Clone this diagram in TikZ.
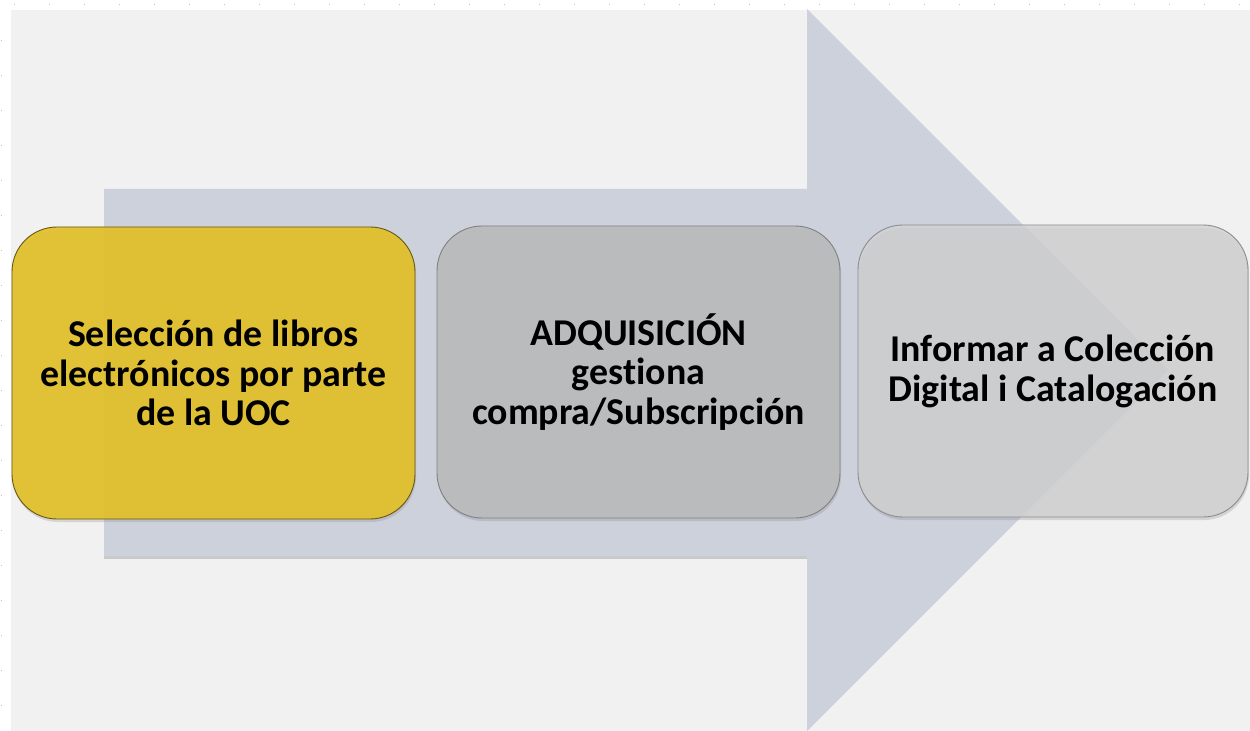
\documentclass[tikz,border=0pt]{standalone}
\usepackage{fontspec}
\setmainfont{Carlito}[Ligatures=NoCommon]
\usetikzlibrary{shadows}
\definecolor{bgc}{HTML}{F1F1F1}
\definecolor{arrowc}{HTML}{CDD1DB}
\definecolor{yellowc}{HTML}{E2C02A}
\definecolor{grayc}{HTML}{BBBBBD}
\definecolor{lightc}{HTML}{D2D2D3}
\begin{document}
\begin{tikzpicture}[x=1bp,y=-1bp,
  stepbox/.style={rounded corners=45bp, minimum width=403bp, minimum height=292bp,
    align=center, inner sep=0pt, line width=0.9bp,
    font=\fontsize{38}{40}\selectfont\bfseries,
    drop shadow={shadow xshift=1bp, shadow yshift=-3bp, opacity=.25}},
  dotline/.style={draw=black!25, line width=1bp, dash pattern=on 1bp off 34bp}
]
\useasboundingbox (0,0) rectangle (1250,731);
\fill[white] (0,0) rectangle (1250,731);
\draw[dotline] (14,5) -- (1250,5);
\draw[dotline] (1,40) -- (1,731);
\fill[bgc] (11,10) rectangle (1250,731);
% big arrow: shadow then body
\fill[black!40, opacity=.45] (104,192) -- (807,192) -- (807,559) -- (104,559) -- cycle;
\fill[arrowc] (104,189) -- (807,189) -- (807,9) -- (1168,370) -- (807,731) -- (807,556) -- (104,556) -- cycle;
% steps
\node[stepbox, draw=black!55!yellowc, fill=yellowc, fill opacity=.93, text opacity=1] (s1) at (213.5,373)
  {Selección de libros\\electrónicos por parte\\de la UOC};
\node[stepbox, draw=black!50, fill=grayc, fill opacity=.95, text opacity=1] (s2) at (638.5,372)
  {ADQUISICIÓN\\gestiona\\compra/Subscripción};
\node[stepbox, minimum width=390bp, draw=black!45, fill=lightc, fill opacity=.78, text opacity=1] (s3) at (1053,371)
  {Informar a Colección\\Digital i Catalogación};
\end{tikzpicture}
\end{document}
